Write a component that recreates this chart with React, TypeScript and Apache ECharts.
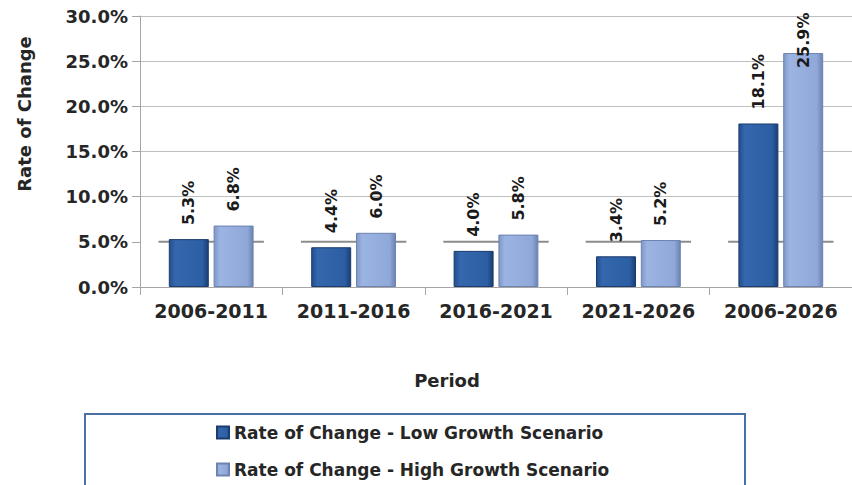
import React, { useEffect, useRef } from "react";
import * as echarts from "echarts";

const categories = ["2006-2011", "2011-2016", "2016-2021", "2021-2026", "2006-2026"];
const lowGrowth = [5.3, 4.4, 4.0, 3.4, 18.1];
const highGrowth = [6.8, 6.0, 5.8, 5.2, 25.9];
const seriesNames = [
  "Rate of Change - Low Growth Scenario",
  "Rate of Change - High Growth Scenario",
];
const yTicks = [0, 5, 10, 15, 20, 25, 30];
const emphasisGridValue = 5;

const FONT = "'DejaVu Sans', Verdana, sans-serif";
const TEXT = "#262626";

export default function App() {
  const ref = useRef<HTMLDivElement>(null);
  useEffect(() => {
    if (!ref.current) return;
    const chart = echarts.init(ref.current, undefined, { renderer: "svg" });
    const lowGrad = new echarts.graphic.LinearGradient(0, 0, 1, 0, [
      { offset: 0, color: "#234e8c" },
      { offset: 0.15, color: "#3467ad" },
      { offset: 0.85, color: "#2c5ea3" },
      { offset: 1, color: "#1a3e73" },
    ]);
    const highGrad = new echarts.graphic.LinearGradient(0, 0, 1, 0, [
      { offset: 0, color: "#7e97c6" },
      { offset: 0.15, color: "#9cb4e2" },
      { offset: 0.85, color: "#8fa8d8" },
      { offset: 1, color: "#6b83b4" },
    ]);
    const labelBase = {
      show: true,
      position: "top",
      rotate: 90,
      distance: 14,
      align: "left",
      verticalAlign: "middle",
      fontFamily: FONT,
      fontWeight: "bold",
      fontSize: 16,
      color: "#1a1a1a",
      formatter: (p: any) => Number(p.value).toFixed(1) + "%",
    };
    const yMax = yTicks[yTicks.length - 1];
    const highData = highGrowth.map((v) =>
      v > yMax - 6 ? { value: v, label: { distance: -15 } } : v
    );
    const legendText = {
      fontFamily: FONT,
      fontWeight: "bold",
      fontSize: 17,
      color: TEXT,
    };
    chart.setOption({
      animation: false,
      grid: { left: 140, right: 0, top: 16, bottom: 198, containLabel: false },
      legend: [
        {
          left: 216,
          top: 424,
          padding: 0,
          itemWidth: 12,
          itemHeight: 12,
          icon: "rect",
          data: [seriesNames[0]],
          textStyle: legendText,
        },
        {
          left: 216,
          top: 461,
          padding: 0,
          itemWidth: 12,
          itemHeight: 12,
          icon: "rect",
          data: [seriesNames[1]],
          textStyle: legendText,
        },
      ],
      xAxis: {
        type: "category",
        data: categories,
        boundaryGap: true,
        axisLine: { lineStyle: { color: "#a6a6a6", width: 1 } },
        axisTick: { show: true, length: 8, lineStyle: { color: "#a6a6a6" } },
        axisLabel: {
          interval: 0,
          margin: 14,
          fontFamily: FONT,
          fontWeight: "bold",
          fontSize: 19,
          color: TEXT,
        },
      },
      yAxis: {
        type: "value",
        min: yTicks[0],
        max: yMax,
        interval: yTicks[1] - yTicks[0],
        axisLine: { show: true, lineStyle: { color: "#a6a6a6" } },
        axisTick: { show: true, length: 8, lineStyle: { color: "#a6a6a6" } },
        axisLabel: {
          margin: 12,
          fontFamily: FONT,
          fontWeight: "bold",
          fontSize: 18,
          color: TEXT,
          formatter: (v: number) => v.toFixed(1) + "%",
        },
        splitLine: {
          show: true,
          lineStyle: {
            color: yTicks.map((t) => (t === emphasisGridValue ? "rgba(0,0,0,0)" : "#bfbfbf")),
            width: 1,
          },
        },
      },
      graphic: [
        {
          type: "text",
          x: 24,
          y: 114,
          rotation: Math.PI / 2,
          style: {
            text: "Rate of Change",
            fontFamily: FONT,
            fontWeight: "bold",
            fontSize: 18,
            fill: TEXT,
            align: "center",
            verticalAlign: "middle",
          },
        },
        {
          type: "text",
          x: 447,
          y: 380,
          style: {
            text: "Period",
            fontFamily: FONT,
            fontWeight: "bold",
            fontSize: 18,
            fill: TEXT,
            align: "center",
            verticalAlign: "middle",
          },
        },
        {
          type: "rect",
          shape: { x: 85, y: 414, width: 660, height: 100 },
          style: { fill: "none", stroke: "#4a6fa5", lineWidth: 2 },
          z: -1,
        },
      ],
      series: [
        {
          type: "custom",
          name: "grid5",
          silent: true,
          z: 1,
          data: categories.map((_, i) => [i, emphasisGridValue]),
          renderItem: (params: any, api: any) => {
            const c = api.coord([api.value(0), api.value(1)]);
            const bw = api.size([1, 0])[0];
            return {
              type: "line",
              shape: { x1: c[0] - bw * 0.37, y1: c[1], x2: c[0] + bw * 0.37, y2: c[1] },
              style: { stroke: "#8c8c8c", lineWidth: 2 },
            };
          },
        },
        {
          type: "bar",
          name: seriesNames[0],
          data: lowGrowth,
          barWidth: 40,
          barGap: "12%",
          z: 3,
          itemStyle: { color: lowGrad, borderColor: "#1b3c6e", borderWidth: 1 },
          label: labelBase,
        },
        {
          type: "bar",
          name: seriesNames[1],
          data: highData,
          barWidth: 40,
          barGap: "12%",
          z: 3,
          itemStyle: { color: highGrad, borderColor: "#6d84b0", borderWidth: 1 },
          label: labelBase,
        },
      ],
    });
    return () => chart.dispose();
  }, []);
  return <div ref={ref} style={{ width: 852, height: 485, position: "absolute", left: 0, top: 0 }} />;
}
